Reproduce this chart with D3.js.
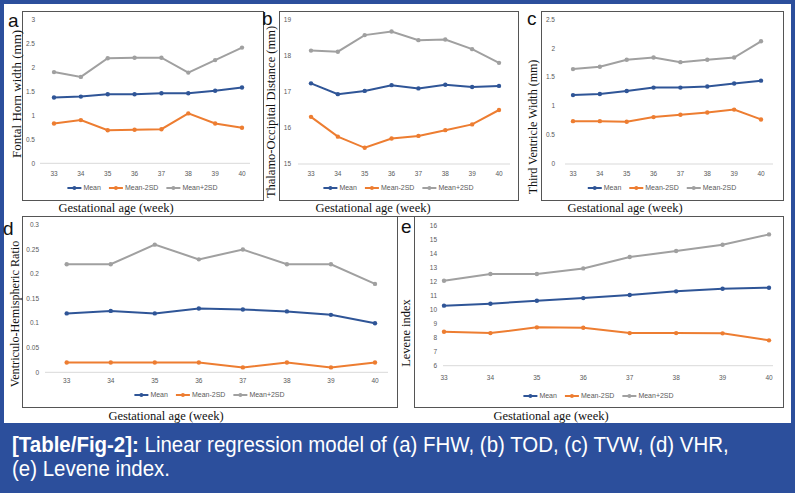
<!DOCTYPE html>
<html>
<head>
<meta charset="utf-8">
<script src="https://cdn.jsdelivr.net/npm/d3@7"></script>
<style>
  body { margin: 0; background: #2c4f9c; }
  svg { display: block; }
</style>
</head>
<body>
<div id="fig"></div>
<script>
// gestational weeks (x categories)
var weeks = [33, 34, 35, 36, 37, 38, 39, 40];

// (a) fontal horn width
var fhwMean = [1.37, 1.39, 1.44, 1.44, 1.46, 1.46, 1.51, 1.58];
var fhwLow  = [0.83, 0.90, 0.69, 0.70, 0.71, 1.04, 0.83, 0.74];
var fhwHigh = [1.90, 1.80, 2.19, 2.20, 2.20, 1.89, 2.15, 2.41];
var fhwTicks = [0, 0.5, 1, 1.5, 2, 2.5, 3];

// (b) thalamo-occipital distance
var todMean = [17.24, 16.94, 17.03, 17.19, 17.10, 17.20, 17.14, 17.17];
var todLow  = [16.31, 15.76, 15.45, 15.71, 15.78, 15.94, 16.10, 16.50];
var todHigh = [18.15, 18.12, 18.58, 18.68, 18.44, 18.46, 18.19, 17.81];
var todTicks = [15, 16, 17, 18, 19];

// (c) third ventricle width
var tvwMean = [1.19, 1.21, 1.26, 1.32, 1.32, 1.34, 1.39, 1.44];
var tvwLow  = [0.74, 0.74, 0.73, 0.81, 0.85, 0.89, 0.94, 0.77];
var tvwHigh = [1.64, 1.68, 1.80, 1.84, 1.76, 1.80, 1.84, 2.12];
var tvwTicks = [0, 0.5, 1, 1.5, 2, 2.5];

// (d) ventriculo-hemispheric ratio
var vhrMean = [0.120, 0.125, 0.120, 0.130, 0.128, 0.124, 0.117, 0.100];
var vhrLow  = [0.02, 0.02, 0.02, 0.02, 0.01, 0.02, 0.01, 0.02];
var vhrHigh = [0.22, 0.22, 0.26, 0.23, 0.25, 0.22, 0.22, 0.18];
var vhrTicks = [0, 0.05, 0.1, 0.15, 0.2, 0.25, 0.3];

// (e) levene index
var levMean = [10.29, 10.43, 10.64, 10.83, 11.05, 11.31, 11.50, 11.57];
var levLow  = [8.43, 8.33, 8.74, 8.71, 8.33, 8.33, 8.31, 7.81];
var levHigh = [12.07, 12.55, 12.55, 12.95, 13.76, 14.19, 14.64, 15.38];
var levTicks = [6, 7, 8, 9, 10, 11, 12, 13, 14, 15, 16];

var legendNames  = ['Mean', 'Mean-2SD', 'Mean+2SD'];
var legendNamesC = ['Mean', 'Mean-2SD', 'Mean-2SD'];
var xTitle = 'Gestational age (week)';

var colors = ['#2f5597', '#ed7d31', '#a0a0a0'];

var W = 795, H = 493;

var svg = d3.select('#fig').append('svg')
    .attr('width', W)
    .attr('height', H);

svg.append('rect')
    .attr('x', 0).attr('y', 0)
    .attr('width', W).attr('height', H)
    .attr('fill', '#2c4f9c');

svg.append('rect')
    .attr('x', 4).attr('y', 4)
    .attr('width', 787).attr('height', 419)
    .attr('fill', '#fff');

// panel layout
var panels = [
    { letter: 'a', lx: 8, ly: 27, box: [22, 11, 263, 200],
      x: [54, 242], base: [40, 250], y: [163.3, 19.3], tickX: 35, xLabY: 176, legY: 188,
      yTitle: 'Fontal Horn width (mm)', ytx: 16, yty: 94, ytSize: 13, xtx: 116, xty: 212,
      series: [fhwMean, fhwLow, fhwHigh], ticks: fhwTicks, legend: legendNames },
    { letter: 'b', lx: 262, ly: 25, box: [279, 11, 518, 200],
      x: [311, 499], base: [298, 510], y: [164, 20], tickX: 291, xLabY: 176, legY: 188,
      yTitle: 'Thalamo-Occipital Distance (mm)', ytx: 271, yty: 112, ytSize: 12.5, xtx: 373, xty: 212,
      series: [todMean, todLow, todHigh], ticks: todTicks, legend: legendNames },
    { letter: 'c', lx: 527, ly: 25, box: [541, 11, 783, 200],
      x: [573, 761], base: [565, 773], y: [164, 19.3], tickX: 555, xLabY: 176, legY: 188,
      yTitle: 'Third Ventricle Width (mm)', ytx: 533, yty: 127, ytSize: 12, xtx: 625, xty: 212,
      series: [tvwMean, tvwLow, tvwHigh], ticks: tvwTicks, legend: legendNamesC },
    { letter: 'd', lx: 3, ly: 235, box: [22, 216, 397, 407],
      x: [66.7, 375], base: [45, 388], y: [372.3, 225], tickX: 39, xLabY: 383, legY: 395,
      yTitle: 'Ventriculo-Hemispheric Ratio', ytx: 15, yty: 314, ytSize: 12.2, xtx: 166, xty: 420,
      series: [vhrMean, vhrLow, vhrHigh], ticks: vhrTicks, legend: legendNames },
    { letter: 'e', lx: 401, ly: 233, box: [414, 216, 783, 407],
      x: [444, 769], base: [443, 773], y: [365.7, 225.7], tickX: 437, xLabY: 380, legY: 396,
      yTitle: 'Levene index', ytx: 406, yty: 333, ytSize: 12.5, xtx: 551, xty: 420,
      series: [levMean, levLow, levHigh], ticks: levTicks, legend: legendNames }
];

// line across the tops of the lower boxes
svg.append('line')
    .attr('x1', 22).attr('x2', 783)
    .attr('y1', 216.5).attr('y2', 216.5)
    .attr('stroke', '#555').attr('stroke-width', 1);

panels.forEach(function (p) {
    var g = svg.append('g');

    g.append('rect')
        .attr('x', p.box[0] + 0.5).attr('y', p.box[1] + 0.5)
        .attr('width', p.box[2] - p.box[0]).attr('height', p.box[3] - p.box[1])
        .attr('fill', 'none')
        .attr('stroke', '#555')
        .attr('stroke-width', 1);

    var x = d3.scalePoint().domain(weeks).range(p.x);
    var tks = p.ticks;
    var y = d3.scaleLinear().domain([tks[0], tks[tks.length - 1]]).range(p.y);

    // baseline
    g.append('line')
        .attr('x1', p.base[0]).attr('x2', p.base[1])
        .attr('y1', y(tks[0])).attr('y2', y(tks[0]))
        .attr('stroke', '#d9d9d9').attr('stroke-width', 1);

    // y tick labels
    g.selectAll('.yt').data(tks).enter().append('text')
        .attr('x', p.tickX)
        .attr('y', function (d) { return y(d); })
        .attr('dy', '0.35em')
        .attr('text-anchor', 'end')
        .attr('font-family', 'Liberation Sans, Arial, sans-serif')
        .attr('font-size', 6.5)
        .attr('fill', '#595959')
        .text(function (d) { return String(d); });

    // x tick labels
    g.selectAll('.xt').data(weeks).enter().append('text')
        .attr('x', function (d) { return x(d); })
        .attr('y', p.xLabY)
        .attr('text-anchor', 'middle')
        .attr('font-family', 'Liberation Sans, Arial, sans-serif')
        .attr('font-size', 6.5)
        .attr('fill', '#595959')
        .text(function (d) { return d; });

    var line = d3.line()
        .x(function (d, i) { return x(weeks[i]); })
        .y(function (d) { return y(d); });

    p.series.forEach(function (s, k) {
        g.append('path')
            .datum(s)
            .attr('d', line)
            .attr('fill', 'none')
            .attr('stroke', colors[k])
            .attr('stroke-width', 2);
        g.selectAll('.m' + k).data(s).enter().append('circle')
            .attr('cx', function (d, i) { return x(weeks[i]); })
            .attr('cy', function (d) { return y(d); })
            .attr('r', 2.2)
            .attr('fill', colors[k]);
    });

    // legend, centred in box
    var leg = g.append('g');
    var cx = 0;
    p.legend.forEach(function (name, k) {
        leg.append('line')
            .attr('x1', cx).attr('x2', cx + 14)
            .attr('y1', 0).attr('y2', 0)
            .attr('stroke', colors[k]).attr('stroke-width', 2);
        leg.append('circle')
            .attr('cx', cx + 7).attr('cy', 0).attr('r', 2)
            .attr('fill', colors[k]);
        var t = leg.append('text')
            .attr('x', cx + 16).attr('y', 0)
            .attr('dy', '0.35em')
            .attr('font-family', 'Liberation Sans, Arial, sans-serif')
            .attr('font-size', 7)
            .attr('fill', '#595959')
            .text(name);
        cx += 16 + t.node().getComputedTextLength() + 8;
    });
    var legW = cx - 8;
    leg.attr('transform', 'translate(' + ((p.box[0] + p.box[2]) / 2 - legW / 2) + ',' + p.legY + ')');

    // axis titles
    g.append('text')
        .attr('transform', 'translate(' + p.ytx + ',' + p.yty + ') rotate(-90)')
        .attr('text-anchor', 'middle')
        .attr('dy', '0.35em')
        .attr('font-family', 'Liberation Serif, Times New Roman, serif')
        .attr('font-size', p.ytSize)
        .attr('fill', '#111')
        .text(p.yTitle);

    g.append('text')
        .attr('x', p.xtx).attr('y', p.xty)
        .attr('text-anchor', 'middle')
        .attr('font-family', 'Liberation Serif, Times New Roman, serif')
        .attr('font-size', 12.5)
        .attr('fill', '#111')
        .text(xTitle);

    g.append('text')
        .attr('x', p.lx).attr('y', p.ly)
        .attr('font-family', 'Liberation Sans, Arial, sans-serif')
        .attr('font-size', 19)
        .attr('fill', '#111')
        .text(p.letter);
});

// caption (condensed by a horizontal scale)
var capG = svg.append('g')
    .attr('transform', 'translate(12,0) scale(0.93,1)')
    .attr('font-family', 'Liberation Sans, Arial, sans-serif')
    .attr('font-size', 22)
    .attr('fill', '#fff');
var cap = capG.append('text').attr('x', 0).attr('y', 452);
cap.append('tspan').attr('font-weight', 'bold').text('[Table/Fig-2]:');
cap.append('tspan').text(' Linear regression model of (a) FHW, (b) TOD, (c) TVW, (d) VHR,');
capG.append('text')
    .attr('x', 0).attr('y', 476)
    .text('(e) Levene index.');
</script>
</body>
</html>
